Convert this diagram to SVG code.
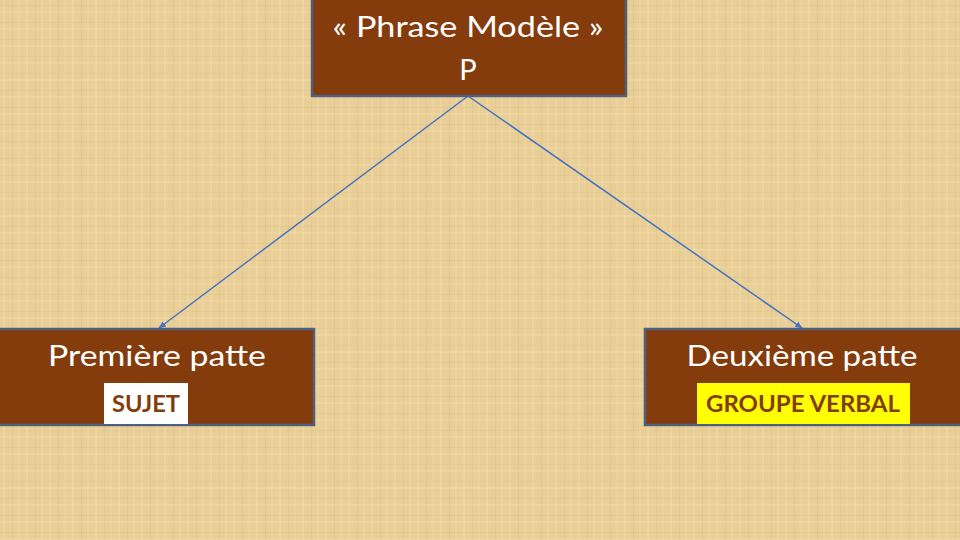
<svg xmlns="http://www.w3.org/2000/svg" width="960" height="540" viewBox="0 0 960 540">
<defs>
<pattern id="tex" width="23" height="17" patternUnits="userSpaceOnUse">
<rect width="23" height="17" fill="#e9cf97"/>
<rect x="3" width="2" height="17" fill="#f1dba8" opacity="0.5"/>
<rect x="12" width="1" height="17" fill="#dcbf84" opacity="0.45"/>
<rect x="18" width="2" height="17" fill="#efd8a3" opacity="0.45"/>
<rect y="5" width="23" height="1" fill="#dcbe82" opacity="0.35"/>
<rect y="11" width="23" height="2" fill="#f2dcab" opacity="0.4"/>
</pattern>
<marker id="arr" viewBox="0 0 10 10" refX="9" refY="5" markerWidth="5" markerHeight="5" orient="auto">
<path d="M0,1 L10,5 L0,9 z" fill="#4472c4"/>
</marker>
<style>
.box{fill:#843c0c;stroke:#4f5f7f;stroke-width:2.5}
.t{font-family:Lato,"Open Sans","Liberation Sans",sans-serif;fill:#ffffff;font-size:29px;text-anchor:middle}
.lab{font-family:Lato,"Open Sans","Liberation Sans",sans-serif;font-weight:bold;fill:#843c0c;font-size:23px;text-anchor:middle}
.conn{stroke:#4472c4;stroke-width:1.5;fill:none;marker-end:url(#arr)}
</style>
</defs>
<rect width="960" height="540" fill="url(#tex)"/>
<g id="connectors">
<line class="conn" x1="468" y1="96" x2="159" y2="328"/>
<line class="conn" x1="468" y1="96" x2="802" y2="328"/>
</g>
<g id="node-top">
<rect class="box" x="312" y="-5" width="314" height="101"/>
<text class="t" x="468" y="37" textLength="271" lengthAdjust="spacingAndGlyphs">« Phrase Modèle »</text>
<text class="t" x="468" y="80">P</text>
</g>
<g id="node-left">
<rect class="box" x="-3" y="329" width="317" height="96"/>
<text class="t" x="157" y="366" textLength="218" lengthAdjust="spacingAndGlyphs">Première patte</text>
<rect x="104" y="383" width="84" height="41" fill="#ffffff"/>
<text class="lab" x="146" y="412" textLength="68" lengthAdjust="spacingAndGlyphs">SUJET</text>
</g>
<g id="node-right">
<rect class="box" x="645" y="329" width="318" height="96"/>
<text class="t" x="802" y="366" textLength="231" lengthAdjust="spacingAndGlyphs">Deuxième patte</text>
<rect x="697" y="383" width="213" height="41" fill="#ffff00"/>
<text class="lab" x="803" y="412" textLength="194" lengthAdjust="spacingAndGlyphs">GROUPE VERBAL</text>
</g>
</svg>
